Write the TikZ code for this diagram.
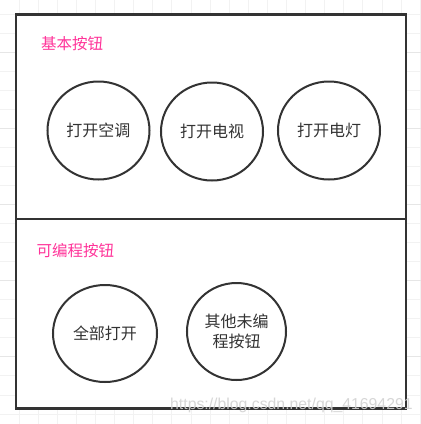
\documentclass[tikz,border=0pt]{standalone}
\usepackage{fontspec}
\setmainfont{Noto Sans CJK SC}
\newfontfamily\wmfont{Liberation Sans}
\usetikzlibrary{shapes.geometric}
\definecolor{framec}{HTML}{333333}
\definecolor{pinkc}{HTML}{FF3399}
\definecolor{gridminor}{HTML}{F2F2F2}
\definecolor{gridmajor}{HTML}{E6E6E6}
\begin{document}
\begin{tikzpicture}[x=1pt,y=-1pt,
  btn/.style={ellipse, draw=framec, line width=2pt, minimum width=102pt, minimum height=98pt,
    inner sep=0pt, font=\fontsize{16}{20}\selectfont, text=framec, align=center},
  lbl/.style={anchor=west, text=pinkc, font=\fontsize{15.5}{20}\selectfont, inner sep=0pt},
  framel/.style={draw=framec, line width=2.7pt}]
\useasboundingbox (0,0) rectangle (421,424);
\fill[white] (0,0) rectangle (421,424);
% grid
\foreach \k in {1,...,22} \draw[gridminor, line width=1pt] ({19.1*\k},0) -- ({19.1*\k},424);
\foreach \k in {-1,0,...,21} \draw[gridminor, line width=1pt] (0,{14+19.05*\k}) -- (421,{14+19.05*\k});
\foreach \k in {2,6,10,14,18} \draw[gridmajor, line width=1pt] (0,{14+19.05*\k}) -- (421,{14+19.05*\k});
% frame
\draw[framel, fill=white] (16,14.5) rectangle (406,408.5);
\coordinate (dl) at (16,219);
\coordinate (dr) at (406,219);
\draw[framel] (dl) -- (dr);
% labels
\node[lbl] (l1) at (41,44) {基本按钮};
\node[lbl] (l2) at (36.5,251) {可编程按钮};
% buttons
\node[btn] (b1) at (98.5,130.5) {打开空调};
\node[btn] (b2) at (212,131.5) {打开电视};
\node[btn] (b3) at (329,130.5) {打开电灯};
\node[btn, minimum width=104pt, minimum height=97pt] (b4) at (105,333.5) {全部打开};
\node[btn, minimum width=99pt, minimum height=97pt] (b5) at (236.5,331.5) {其他未编\\程按钮};
% watermark
\node[anchor=base west, inner sep=0pt, font=\wmfont\fontsize{15.8}{16}\selectfont, text=gray!35, opacity=0.9] (wm) at (170,409) {https://blog.csdn.net/qq\_41694291};
\end{tikzpicture}
\end{document}
